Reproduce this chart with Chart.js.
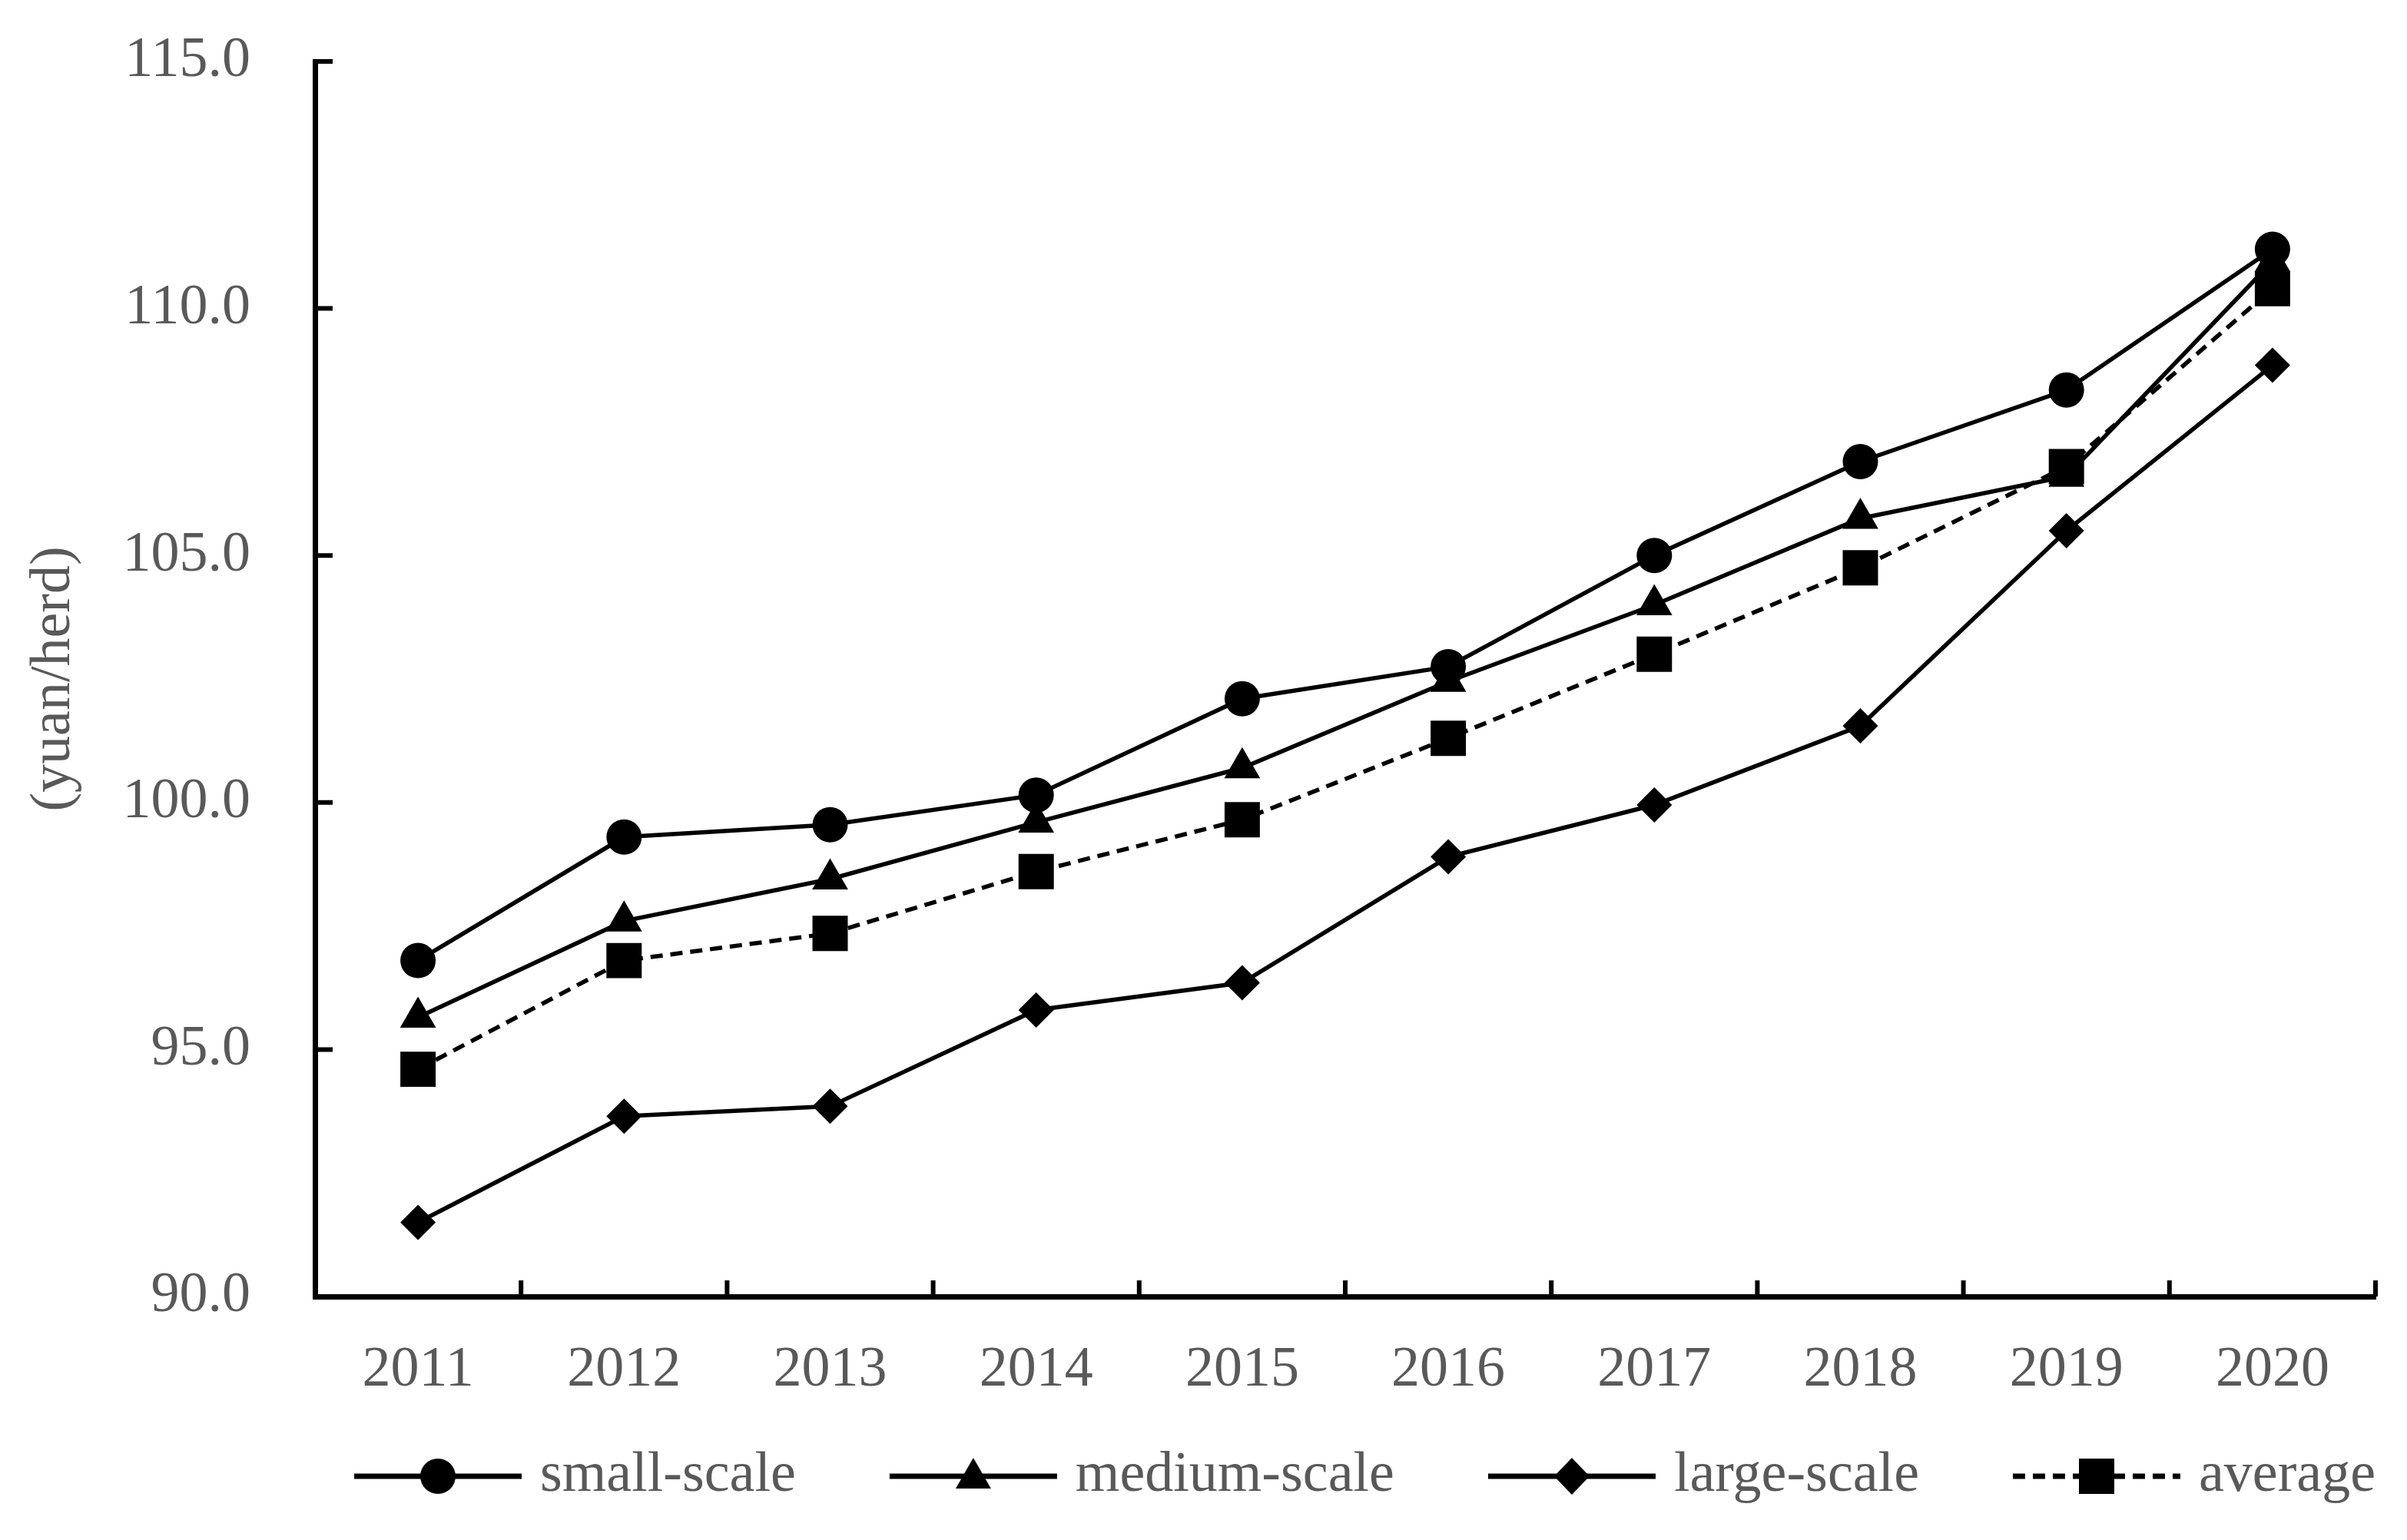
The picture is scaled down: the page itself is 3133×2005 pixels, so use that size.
<!DOCTYPE html>
<html>
<head>
<meta charset="utf-8">
<script src="https://cdn.jsdelivr.net/npm/chart.js@4.4.1/dist/chart.umd.min.js"></script>
<style>
  html, body { margin: 0; padding: 0; background: #fff; }
  #wrap { width: 3133px; height: 2005px; }
</style>
</head>
<body>
<div id="wrap"><canvas id="chart" width="3133" height="2005"></canvas></div>
<script>
// values
const years = ['2011', '2012', '2013', '2014', '2015', '2016', '2017', '2018', '2019', '2020'];
const smallScale = [96.8, 99.3, 99.55, 100.15, 102.1, 102.75, 105.0, 106.9, 108.35, 111.2];
const mediumScale = [95.65, 97.6, 98.45, 99.6, 100.7, 102.45, 104.0, 105.75, 106.6, 110.95];
const largeScale = [91.5, 93.65, 93.85, 95.8, 96.35, 98.9, 99.95, 101.55, 105.5, 108.85];
const average = [94.6, 96.8, 97.35, 98.6, 99.65, 101.3, 103.0, 104.75, 106.8, 110.4];
const yTicks = [90, 95, 100, 105, 110, 115];
const seriesNames = ['small-scale', 'medium-scale', 'large-scale', 'average'];

const FONT = 'Liberation Serif';
const GREY = '#595959';
const FS = 74;

// legend symbol: line with the marker in the middle
function legendIcon(shape, dashed) {
  const c = document.createElement('canvas');
  c.width = 353; c.height = 64;
  const g = c.getContext('2d');
  const cx = 244, cy = 32;
  g.strokeStyle = '#000';
  g.lineWidth = 7;
  if (dashed) g.setLineDash([16, 10]);
  g.beginPath(); g.moveTo(135, cy); g.lineTo(353, cy); g.stroke();
  g.setLineDash([]);
  g.fillStyle = '#000';
  g.beginPath();
  if (shape === 'circle') {
    g.arc(cx, cy, 23, 0, Math.PI * 2);
  } else if (shape === 'triangle') {
    g.moveTo(cx, cy - 24); g.lineTo(cx + 23, cy + 16); g.lineTo(cx - 23, cy + 16);
  } else if (shape === 'diamond') {
    g.moveTo(cx, cy - 24); g.lineTo(cx + 23, cy); g.lineTo(cx, cy + 24); g.lineTo(cx - 23, cy);
  } else {
    g.rect(cx - 23, cy - 23, 46, 46);
  }
  g.closePath();
  g.fill();
  return c;
}
const icons = [legendIcon('circle'), legendIcon('triangle'), legendIcon('diamond'), legendIcon('square', true)];

// tick marks pointing into the plot
const innerTicks = {
  id: 'innerTicks',
  afterDraw(chart) {
    const { ctx, scales: { x, y } } = chart;
    ctx.save();
    ctx.strokeStyle = '#000';
    ctx.lineWidth = 6;
    ctx.beginPath();
    y.ticks.forEach(t => {
      if (t.value === y.min) return;
      const py = y.getPixelForValue(t.value);
      ctx.moveTo(y.right, py); ctx.lineTo(y.right + 23, py);
    });
    const half = (x.getPixelForValue(1) - x.getPixelForValue(0)) / 2;
    years.forEach((yr, i) => {
      const px = x.getPixelForValue(i) + half;
      ctx.moveTo(px, x.top); ctx.lineTo(px, x.top - 21);
    });
    ctx.stroke();
    ctx.restore();
  }
};

function series(label, data, style, radius, dashed) {
  return {
    label: label,
    data: data,
    borderColor: '#000',
    backgroundColor: '#000',
    borderWidth: 5.5,
    borderDash: dashed ? [16, 10] : [],
    pointStyle: style,
    pointRadius: radius,
    pointBorderWidth: 0,
    pointBackgroundColor: '#000',
    tension: 0
  };
}

new Chart(document.getElementById('chart'), {
  type: 'line',
  data: {
    labels: years,
    datasets: [
      series(seriesNames[0], smallScale, 'circle', 23),
      series(seriesNames[1], mediumScale, 'triangle', 27),
      series(seriesNames[2], largeScale, 'rectRot', 23),
      series(seriesNames[3], average, 'rect', 32.5, true)
    ]
  },
  options: {
    responsive: false,
    animation: false,
    devicePixelRatio: 1,
    layout: { padding: { top: 80, right: 41, bottom: 36, left: 0 } },
    plugins: {
      tooltip: { enabled: false },
      legend: {
        position: 'bottom',
        align: 'end',
        labels: {
          usePointStyle: true,
          pointStyleWidth: 327,
          padding: 0,
          color: GREY,
          font: { family: FONT, size: FS },
          generateLabels: chart => chart.data.datasets.map((ds, i) => ({
            text: ds.label,
            pointStyle: icons[i],
            fontColor: GREY,
            datasetIndex: i,
            hidden: false,
            lineWidth: 0,
            strokeStyle: 'rgba(0,0,0,0)',
            fillStyle: 'rgba(0,0,0,0)'
          }))
        }
      }
    },
    scales: {
      x: {
        offset: true,
        grid: { display: false },
        border: { display: true, color: '#000', width: 7 },
        ticks: { color: GREY, font: { family: FONT, size: FS }, padding: 44, maxRotation: 0 },
        afterFit: s => { s.height = 197; s.paddingLeft = 0; s.paddingRight = 0; }
      },
      y: {
        min: 90,
        max: 115,
        grid: { display: false },
        border: { display: true, color: '#000', width: 7 },
        afterBuildTicks: s => { s.ticks = yTicks.map(v => ({ value: v })); },
        ticks: {
          color: GREY,
          font: { family: FONT, size: FS },
          padding: 76,
          callback: v => Number(v).toFixed(1)
        },
        title: {
          display: true,
          text: '(yuan/herd)',
          color: GREY,
          font: { family: FONT, size: FS },
          padding: { top: 26, bottom: 0 }
        },
        afterFit: s => { s.width = 410; s.paddingTop = 0; s.paddingBottom = 0; }
      }
    }
  },
  plugins: [innerTicks]
});
</script>
</body>
</html>
